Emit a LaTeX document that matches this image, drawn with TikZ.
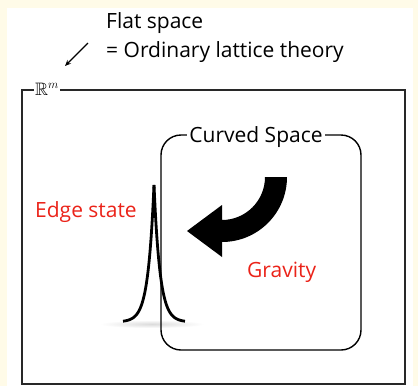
\documentclass[tikz,border=0pt]{standalone}
\usepackage{amssymb}
\usepackage{fontspec}
\setmainfont{Open Sans}
\usetikzlibrary{arrows.meta}
\definecolor{cream}{RGB}{255,251,232}
\definecolor{labelred}{RGB}{235,35,25}
\definecolor{frame}{RGB}{40,40,40}
\tikzset{
  txt/.style={font=\fontsize{21}{25}\selectfont, inner sep=0pt},
  redtxt/.style={txt, text=labelred},
  boxlabel/.style={txt, fill=white, inner xsep=2pt, inner ysep=1pt},
}
\begin{document}
\begin{tikzpicture}[x=1pt,y=-1pt]
\useasboundingbox (0,0) rectangle (418,386);
\fill[cream] (0,0) rectangle (418,386);
\fill[white] (7,8) rectangle (413,386);

% texts at top
\node[txt, anchor=base west] (flat) at (106,28) {Flat space};
\node[txt, anchor=base west] (ord) at (106,57) {= Ordinary lattice theory};
\coordinate (arrS) at (88,43);
\coordinate (arrE) at (65,66);
\draw[line width=1.2pt, -{Stealth[length=6pt,width=5pt]}] (arrS) -- (arrE);

% outer frame
\node[draw=frame, line width=1.8pt, minimum width=383pt, minimum height=294pt, inner sep=0pt] (outer) at (213.5,237) {};
\node[fill=white, inner xsep=1.5pt, inner ysep=0pt, font=\fontsize{18}{20}\selectfont] (rm) at (47,89) {$\mathbb{R}^m$};

% shadow under peak
\shade[inner color=black!14, outer color=white] (152,324) ellipse [x radius=52, y radius=4];

% curved space box
\node[draw, line width=1.4pt, rounded corners=20pt, minimum width=200pt, minimum height=215pt, inner sep=0pt] (curved) at (261,242.5) {};
\node[boxlabel, anchor=base] (cslabel) at (256,142) {Curved Space};

% edge state peak
\draw[line width=2.8pt] plot[domain=-31:0, samples=100, smooth] ({154+\x}, {322-137*exp(\x/6)});
\draw[line width=2.8pt] plot[domain=0:31, samples=100, smooth] ({154+\x}, {322-137*exp(-\x/6)});

% big curved arrow
\fill[black] (265,177) -- (287,177)
  .. controls (287,212.9) and (257.9,242) .. (222,242)
  -- (222,257) -- (187,231) -- (222,205) -- (222,220)
  .. controls (245.7,220) and (265,200.7) .. (265,177) -- cycle;

% red labels
\node[redtxt, anchor=base west] (edge) at (35,217) {Edge state};
\node[redtxt, anchor=base west] (grav) at (247,277) {Gravity};
\end{tikzpicture}
\end{document}
